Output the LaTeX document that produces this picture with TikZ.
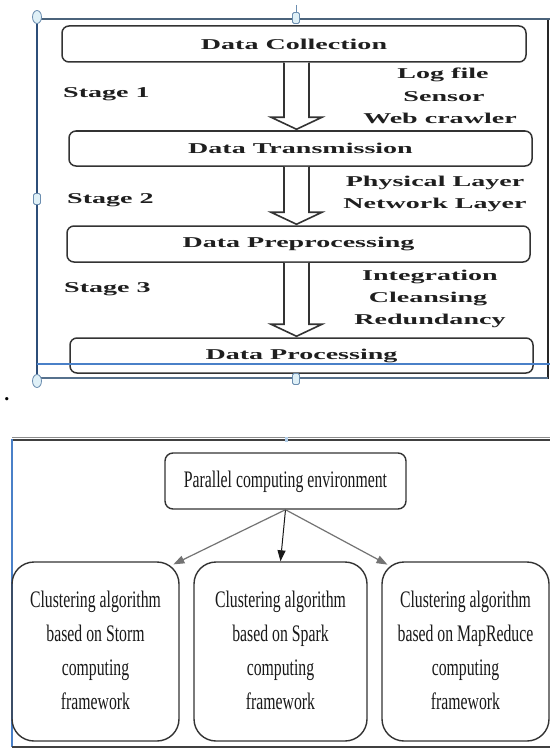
\documentclass[tikz,border=0pt]{standalone}
\usepackage{fontspec}
\setmainfont{Liberation Serif}
\usepackage{graphicx}
\usetikzlibrary{arrows.meta,calc}
\newcommand{\sxa}[1]{\scalebox{1.87}[1]{#1}}
\newcommand{\sxb}[1]{\scalebox{0.665}[1]{\begin{tabular}{@{}c@{}}#1\end{tabular}}}
\definecolor{selblue}{HTML}{4A80C8}
\definecolor{handlefill}{HTML}{DFF0F7}
\definecolor{handledraw}{HTML}{6C8EB0}
\begin{document}
\begin{tikzpicture}[x=1pt,y=-1pt,
  ttxt/.style={font=\bfseries\fontsize{15}{18}\selectfont, text=black!88, inner sep=0pt},
  tbox/.style={ttxt, draw=black!80, line width=1.5pt, rounded corners=7pt, minimum height=36pt},
  blk/.style={draw=black!80, line width=1.6pt, fill=white, line join=miter},
  btxt/.style={font=\fontsize{23.7}{34}\selectfont, text=black!90, inner sep=0pt},
  bbox/.style={btxt, draw=black!80, line width=1.4pt, rounded corners=22pt, minimum height=179pt},
  conn/.style={-{Triangle[length=11pt,width=8pt]}, line width=1.2pt},
  hnd/.style={fill=handlefill, draw=handledraw, line width=0.8pt}
]
\useasboundingbox (0,0) rectangle (550,749);
\fill[white] (0,0) rectangle (550,749);

% ---------- top figure ----------
\node[tbox, minimum width=464pt] (dc) at (294,44) {\sxa{Data Collection}};
\node[tbox, minimum width=463pt, minimum height=35pt] (dt) at (300.5,148.5) {\sxa{Data Transmission}};
\node[tbox, minimum width=463pt] (dp) at (298.5,244) {\sxa{Data Preprocessing}};
\node[tbox, minimum width=463pt, minimum height=35pt] (dpr) at (301.5,355.5) {\sxa{Data Processing}};

\coordinate (ax) at (296.5,0);
\foreach \a/\b in {dc/dt, dt/dp, dp/dpr}{
  \draw[blk] ($(\a.south -| ax)+(-12.5,0)$) -- ($(\b.north -| ax)+(-12.5,-13)$)
    -- ($(\b.north -| ax)+(-25.5,-13)$) -- ($(\b.north -| ax)+(0,-1)$)
    -- ($(\b.north -| ax)+(25.5,-13)$) -- ($(\b.north -| ax)+(12.5,-13)$)
    -- ($(\a.south -| ax)+(12.5,0)$);
}

\node[ttxt, anchor=west] (s1) at (63,94) {\sxa{Stage 1}};
\node[ttxt, anchor=west] (s2) at (67,200) {\sxa{Stage 2}};
\node[ttxt, anchor=west] (s3) at (64,289) {\sxa{Stage 3}};

\node[ttxt] (l1) at (443,75) {\sxa{Log file}};
\node[ttxt] (l2) at (444,97) {\sxa{Sensor}};
\node[ttxt] (l3) at (440,118) {\sxa{Web crawler}};
\node[ttxt] (l4) at (435,183) {\sxa{Physical Layer}};
\node[ttxt] (l5) at (435,205) {\sxa{Network Layer}};
\node[ttxt] (l6) at (430,277) {\sxa{Integration}};
\node[ttxt] (l7) at (428,299) {\sxa{Cleansing}};
\node[ttxt] (l8) at (430,321) {\sxa{Redundancy}};

% frame and selection handles
\draw[black!85, line width=2.2pt] (548,19) -- (548,379);
\draw[handledraw!80!black, line width=1.8pt] (37,378) -- (548,378);
\draw[handledraw!70!black, line width=2pt] (37,19) -- (550,19);
\draw[selblue!60!black, line width=2pt] (37,19) -- (37,380);
\draw[selblue, line width=1.1pt] (37,364) -- (550,364);
\draw[handledraw, line width=0.8pt] (296,5) -- (296,12);
\draw[hnd] (37,17) ellipse [x radius=4.5pt, y radius=6.5pt];
\draw[hnd] (37,381) ellipse [x radius=4.5pt, y radius=6.5pt];
\draw[hnd, rounded corners=1.5pt] (292.5,12.5) rectangle (299.5,23.5);
\draw[hnd, rounded corners=1.5pt] (292.5,373.5) rectangle (299.5,384.5);
\draw[hnd, rounded corners=1.5pt] (33.5,193.5) rectangle (40.5,204.5);

\node[font=\bfseries\fontsize{20}{22}\selectfont, inner sep=0pt] (dot) at (7,399) {.};

% ---------- bottom figure ----------
\draw[black!45, line width=1pt] (12,437.5) -- (550,437.5);
\draw[black!75, line width=2pt] (12,440) -- (550,440);
\draw[selblue, line width=1.2pt] (12,439) -- (12,747);
\draw[black!75, line width=2pt] (12,747) -- (550,747);
\fill[handlefill!70!selblue] (284.5,436.5) rectangle (287.5,441.5);

\node[btxt, draw=black!80, line width=1.4pt, rounded corners=8pt, minimum width=241pt, minimum height=56pt] (par) at (285.5,481) {\sxb{Parallel computing environment}};

\node[bbox, minimum width=167pt] (cl) at (95.5,651.5) {\sxb{Clustering algorithm\\based on Storm\\computing\\framework}};
\node[bbox, minimum width=173pt] (cm) at (280.5,651.5) {\sxb{Clustering algorithm\\based on Spark\\computing\\framework}};
\node[bbox, minimum width=167pt] (cr) at (465.5,651.5) {\sxb{Clustering algorithm\\based on MapReduce\\computing\\framework}};

\draw[conn, black!55, shorten >=-7pt] (par.south) -- (cl.north east);
\draw[conn, black!90, line width=1pt] (par.south) -- (cm.north);
\draw[conn, black!55, shorten >=-7pt] (par.south) -- (cr.north west);
\end{tikzpicture}
\end{document}
